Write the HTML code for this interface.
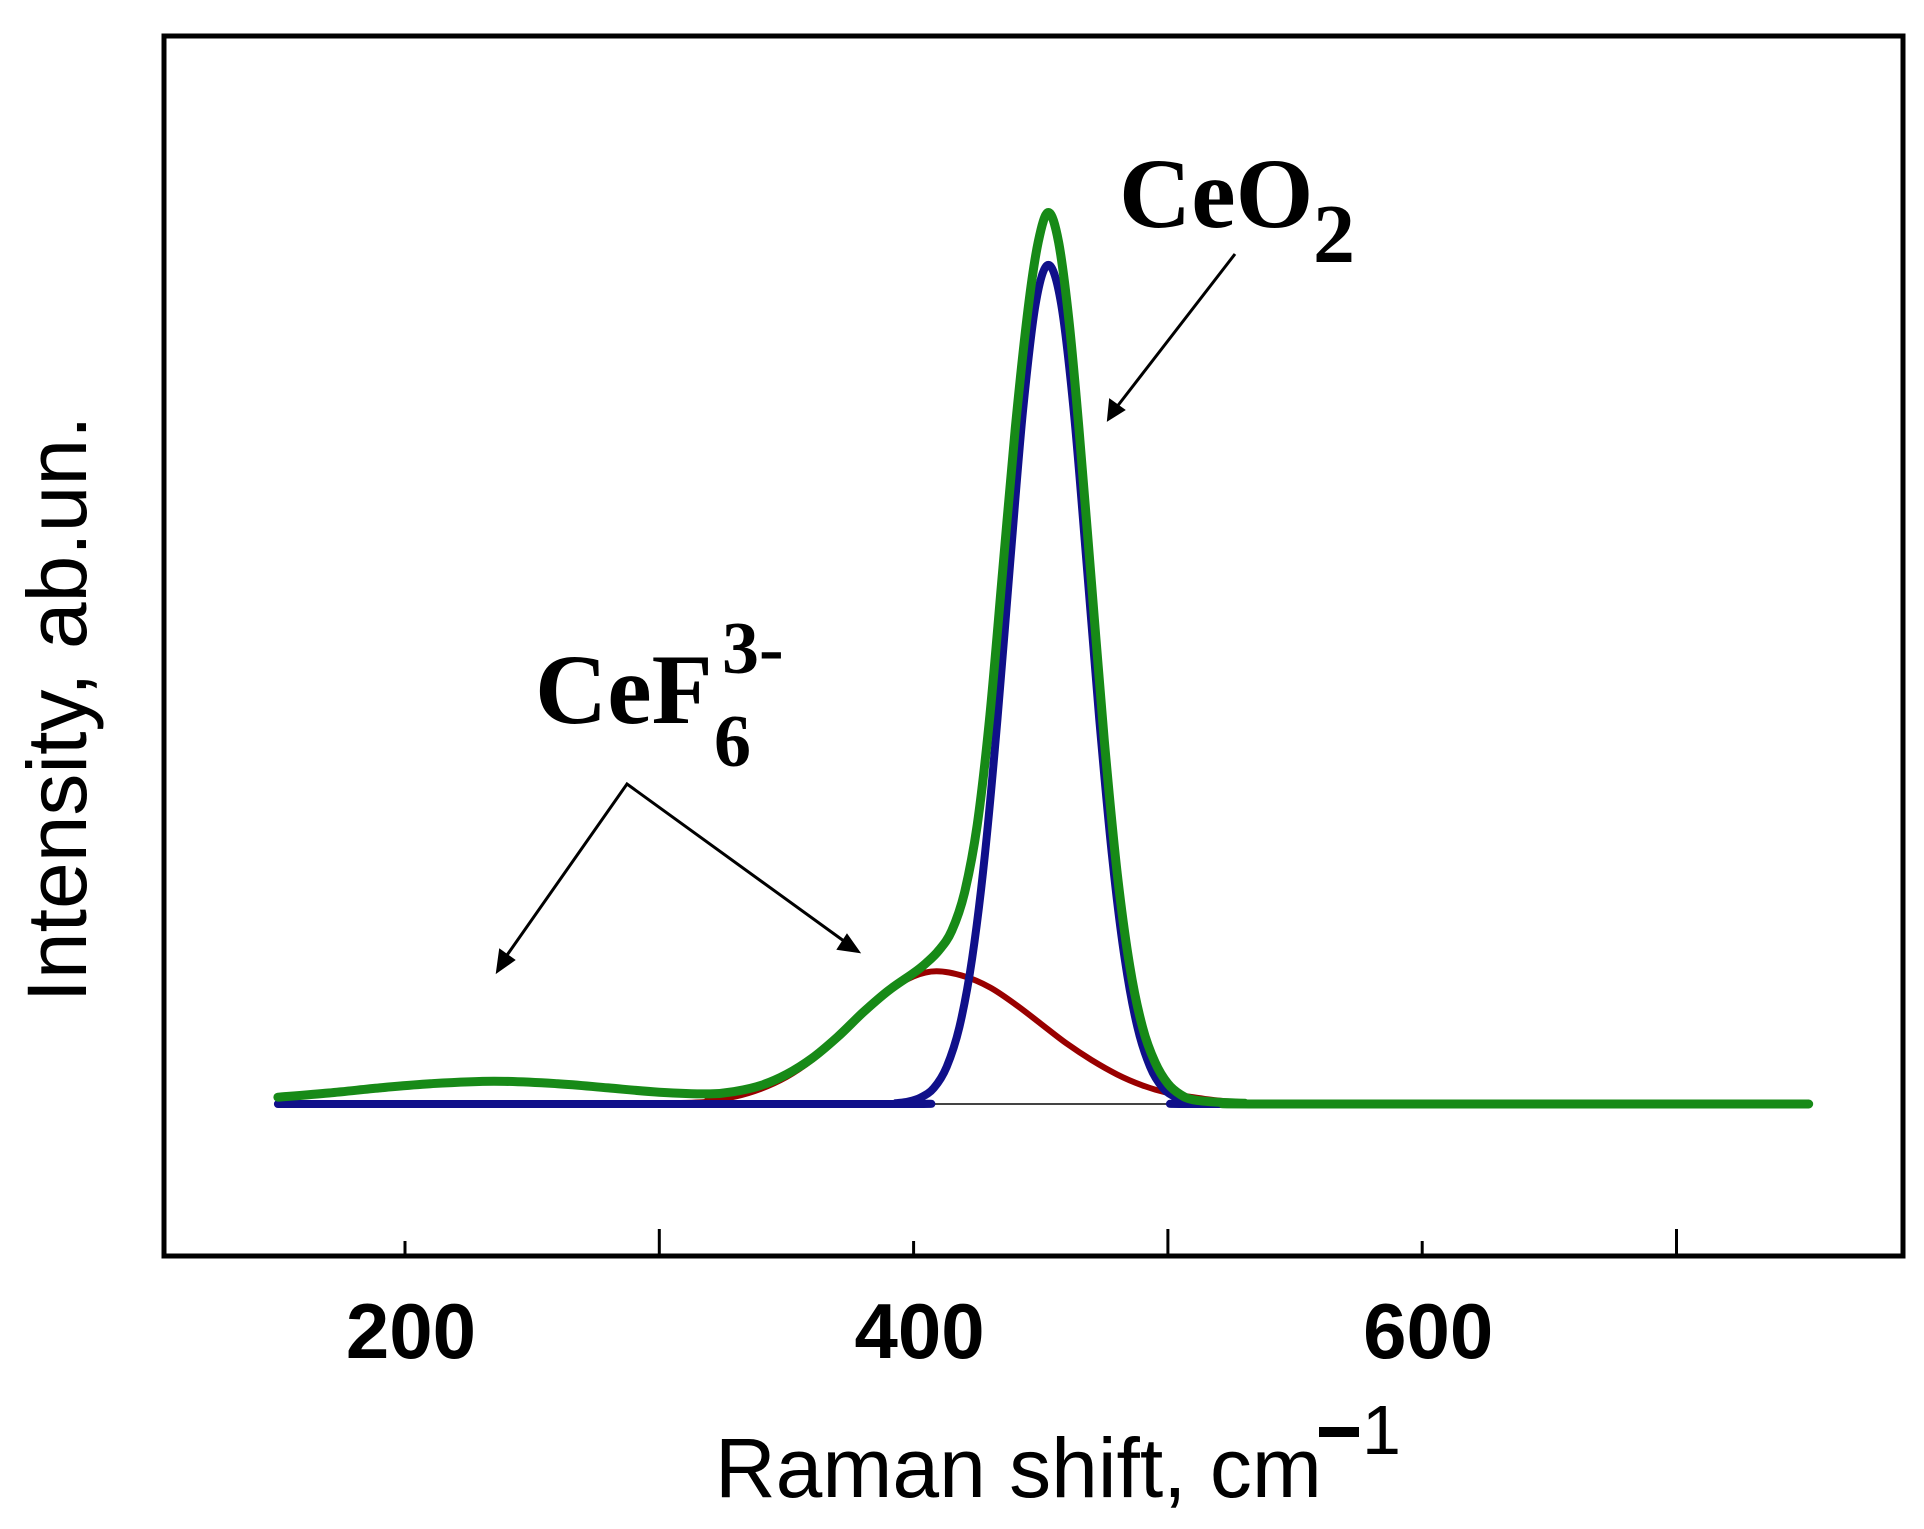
<!DOCTYPE html>
<html>
<head>
<meta charset="utf-8">
<style>
  html,body{margin:0;padding:0;background:#fff;}
  body{width:1924px;height:1524px;overflow:hidden;}
  .sans{font-family:"Liberation Sans",Arial,sans-serif;}
  .serif{font-family:"Liberation Serif","Times New Roman",serif;font-weight:bold;}
</style>
</head>
<body>
<svg id="chart" width="1924" height="1524" viewBox="0 0 1924 1524" xmlns="http://www.w3.org/2000/svg">
  <rect x="0" y="0" width="1924" height="1524" fill="#fff"/>
  <g id="plot"></g>
  <rect x="164" y="36" width="1739" height="1220" fill="none" stroke="#000" stroke-width="5"/>
  <g id="ticks"></g>
  <g id="ticklabels"></g>

  <text class="sans" x="715" y="1497" font-size="84" fill="#000">Raman shift, cm</text>
  <rect x="1319" y="1427" width="40" height="10" fill="#000"/>
  <text class="sans" x="1362" y="1454" font-size="70" fill="#000">1</text>

  <text class="sans" transform="translate(86,709) rotate(-90)" text-anchor="middle" font-size="84" fill="#000">Intensity, ab.un.</text>

  <g>
    <text class="serif" x="1119" y="227" font-size="100" fill="#000">CeO</text>
    <text class="serif" x="1313" y="262" font-size="84" fill="#000">2</text>
  </g>
  <g>
    <line x1="1235" y1="254" x2="1116" y2="408" stroke="#000" stroke-width="3"/>
    <polygon points="1108,420 1110,400 1124,410" fill="#000" stroke="#000" stroke-width="2"/>
  </g>

  <g>
    <text class="serif" x="535" y="723" font-size="100" fill="#000">CeF</text>
    <text class="serif" x="722" y="673" font-size="74" fill="#000">3-</text>
    <text class="serif" x="714" y="766" font-size="74" fill="#000">6</text>
  </g>
  <g>
    <polyline points="505,958 627,784 848,944" fill="none" stroke="#000" stroke-width="3"/>
    <polygon points="497,972 500,950 514,960" fill="#000" stroke="#000" stroke-width="2"/>
    <polygon points="859,952 838,949 847,935" fill="#000" stroke="#000" stroke-width="2"/>
  </g>
</svg>

<script>
// ---- data (cm^-1 and intensity in arbitrary units) ----
const xTicksMajorLabeled = [200, 400, 600];
const xTickLabels = ["200", "400", "600"];
const xTicksAll = [200, 300, 400, 500, 600, 700];

const redX = [150, 300, 320, 330, 340, 350, 360, 370, 380, 390, 400, 409, 420, 430, 440, 450, 460, 470, 480, 490, 500, 510, 520, 530, 540, 752];
const redY = [0, 0.1, 0.5, 0.9, 1.8, 3.2, 5.2, 7.8, 10.7, 13.3, 15.1, 15.7, 15.1, 13.8, 11.8, 9.5, 7.2, 5.2, 3.5, 2.2, 1.3, 0.8, 0.4, 0.2, 0, 0];

const blueX = [150, 388, 393, 398, 403, 408, 413, 418, 423, 428, 433, 438, 443, 448, 453, 458, 463, 468, 473, 478, 483, 488, 493, 498, 503, 508, 513, 520, 752];
const blueY = [0, 0, 0.1, 0.3, 0.8, 1.9, 4.4, 9.1, 17.2, 29.4, 45.6, 64.1, 81.9, 94.7, 99.3, 94.7, 81.9, 64.1, 45.6, 29.4, 17.2, 9.1, 4.4, 1.9, 0.8, 0.3, 0.1, 0, 0];

const greenX = [150, 170, 190, 210, 235, 260, 280, 300, 320, 330, 340, 350, 360, 370, 380, 390, 400, 405, 410, 415, 420, 425, 430, 435, 440, 445, 449, 453, 457, 461, 465, 470, 475, 480, 485, 490, 495, 500, 505, 510, 520, 530, 540, 752];
const greenY = [0.8, 1.3, 1.9, 2.4, 2.7, 2.4, 1.9, 1.4, 1.2, 1.5, 2.2, 3.5, 5.4, 7.9, 10.8, 13.4, 15.5, 16.7, 18.2, 20.5, 25, 33, 46, 63, 80, 94, 102, 105.5, 102, 93, 80, 61.5, 43, 27.5, 16.3, 9.1, 4.9, 2.4, 1.1, 0.5, 0.2, 0.1, 0, 0];

// ---- axes ----
const X0 = 405, XPER = 2.543;       // px per cm^-1
const Y0 = 1104, YPER = 8.45;       // px per intensity unit
function xs(v){ return X0 + (v - 200) * XPER; }
function ys(v){ return Y0 - v * YPER; }

const NS = "http://www.w3.org/2000/svg";
const plot = document.getElementById('plot');
const ticks = document.getElementById('ticks');
const tl = document.getElementById('ticklabels');

function smoothPath(xa, ya){
  const p = xa.map((x,i)=>[xs(x), ys(ya[i])]);
  let d = "M" + p[0][0].toFixed(1) + "," + p[0][1].toFixed(1);
  for (let i=0;i<p.length-1;i++){
    const p0 = p[i-1]||p[i], p1=p[i], p2=p[i+1], p3=p[i+2]||p[i+1];
    const c1x = p1[0] + (p2[0]-p0[0])/6, c1y = p1[1] + (p2[1]-p0[1])/6;
    const c2x = p2[0] - (p3[0]-p1[0])/6, c2y = p2[1] - (p3[1]-p1[1])/6;
    d += " C"+c1x.toFixed(1)+","+c1y.toFixed(1)+" "+c2x.toFixed(1)+","+c2y.toFixed(1)+" "+p2[0].toFixed(1)+","+p2[1].toFixed(1);
  }
  return d;
}

const base = document.createElementNS(NS,'line');
base.setAttribute('x1', xs(150)); base.setAttribute('x2', xs(752));
base.setAttribute('y1', ys(0)); base.setAttribute('y2', ys(0));
base.setAttribute('stroke', '#444'); base.setAttribute('stroke-width', '2');


plot.appendChild(base);

function addSeries(xa, ya, color, w, name){
  const path = document.createElementNS(NS,'path');
  path.setAttribute('d', smoothPath(xa, ya));
  path.setAttribute('fill','none');
  path.setAttribute('stroke', color);
  path.setAttribute('stroke-width', w);
  path.setAttribute('stroke-linejoin','round');
  path.setAttribute('stroke-linecap','round');
  
  
  plot.appendChild(path);
}
addSeries(redX, redY, '#990000', 6, 'cef6-component-curve');
addSeries(blueX, blueY, '#10108a', 8, 'ceo2-component-curve');
addSeries(greenX, greenY, '#178a17', 9, 'measured-spectrum-curve');

xTicksAll.forEach(v=>{
  const major = (v % 200 === 100);
  const t = document.createElementNS(NS,'line');
  t.setAttribute('x1', xs(v)); t.setAttribute('x2', xs(v));
  t.setAttribute('y1', 1254); t.setAttribute('y2', major ? 1229 : 1241);
  t.setAttribute('stroke','#000'); t.setAttribute('stroke-width','3');
  
  
  ticks.appendChild(t);
});
xTicksMajorLabeled.forEach((v,i)=>{
  const t = document.createElementNS(NS,'text');
  t.setAttribute('x', xs(v) + 6);
  t.setAttribute('y', 1358);
  t.setAttribute('text-anchor','middle');
  t.setAttribute('font-size','78');
  t.setAttribute('font-weight','bold');
  t.setAttribute('font-family','Liberation Sans, Arial, sans-serif');
  t.setAttribute('fill','#000');
  t.textContent = xTickLabels[i];
  
  
  tl.appendChild(t);
});
</script>
</body>
</html>
